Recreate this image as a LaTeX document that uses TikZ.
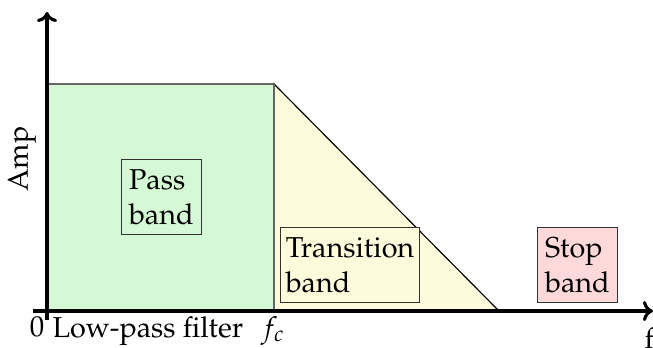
\documentclass[tikz,border=0pt]{standalone}
\usepackage[T1]{fontenc}
\usepackage{mathpazo}
\usetikzlibrary{arrows.meta}
\begin{document}
\begin{tikzpicture}[x=0.3472pt,y=-0.3472pt,
  passfill/.style={fill={rgb,255:red,213;green,249;blue,213}},
  transfill/.style={fill={rgb,255:red,254;green,251;blue,220}},
  stopfill/.style={fill={rgb,255:red,253;green,217;blue,217}},
  bandbox/.style={draw=black!80, line width=0.4pt, align=left, inner xsep=2.6pt, inner ysep=3.5pt, anchor=north west},
  axis/.style={line width=1.1pt, -{To[length=3.5pt,width=7pt]}}]
\useasboundingbox (0,0) rectangle (653,347);
% pass region and transition slope
\draw[passfill, draw=black!60, line width=0.4pt] (48,84) rectangle (274,310);
\draw[transfill, draw=black, line width=0.4pt] (274,84) -- (274,310) -- (498,310) -- cycle;
\draw[draw=black!60, line width=0.4pt] (48,84) -- (274,84) -- (274,310);
% band labels
\node[bandbox, passfill] (pass) at (121,159) {Pass\\band};
\node[bandbox, transfill, inner xsep=1.8pt] (trans) at (280,227) {Transition\\band};
\node[bandbox, stopfill] (stop) at (537,227) {Stop\\band};
% axes
\coordinate (o) at (47,311);
\coordinate (ytop) at (47,12);
\coordinate (xend) at (653,311);
\draw[axis] (47,320) -- (ytop);
\draw[axis] (33,311) -- (xend);
% axis labels
\node[rotate=90] (amp) at (22,159) {Amp};
\node[anchor=base, inner xsep=0pt] (zero) at (37,336) {0};
\node[anchor=base west, inner xsep=0pt] (lpf) at (52,337) {Low-pass filter};
\node[anchor=base, inner xsep=0pt] (fc) at (273,337) {$f_c$};
\node[anchor=base west, inner xsep=0pt] (f) at (644,348) {f};
\end{tikzpicture}
\end{document}
